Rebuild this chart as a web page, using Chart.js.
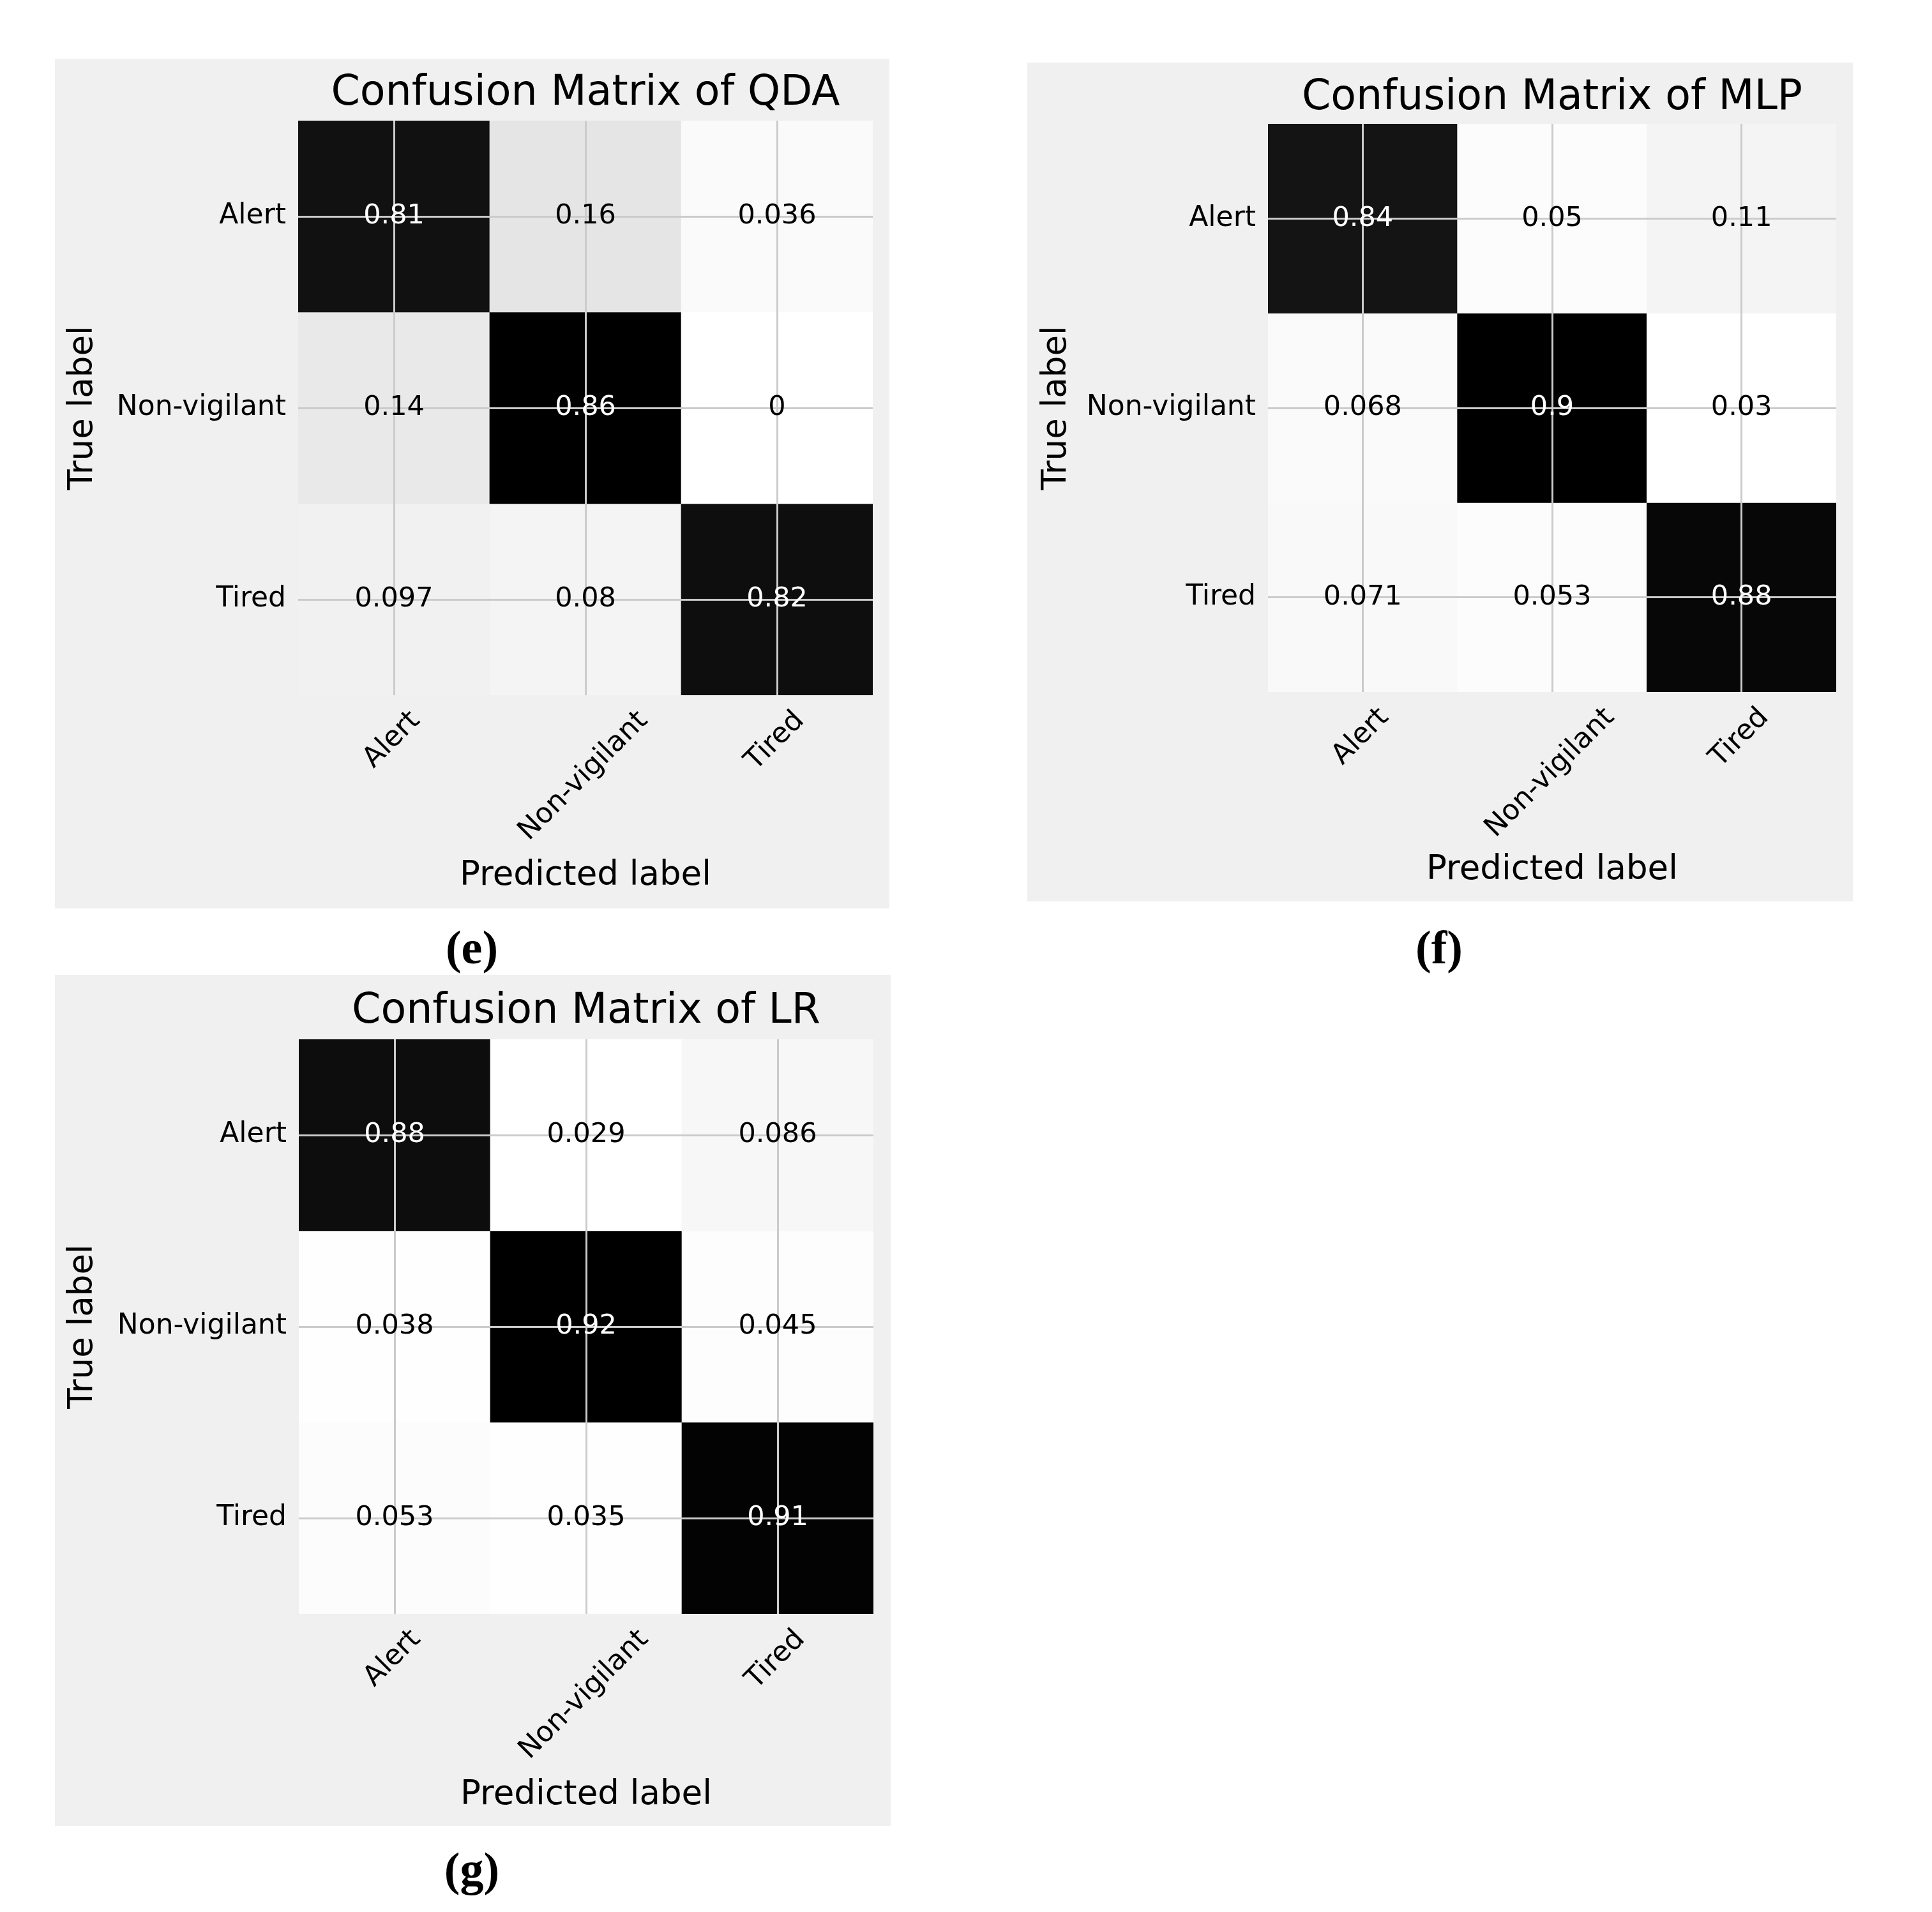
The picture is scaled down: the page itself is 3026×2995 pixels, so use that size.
<!DOCTYPE html>
<html><head><meta charset="utf-8">
<script src="https://cdn.jsdelivr.net/npm/chart.js@4/dist/chart.umd.min.js"></script>
<style>
html,body{margin:0;padding:0;background:#fff;}
body{width:3026px;height:2995px;position:relative;overflow:hidden;}
canvas{position:absolute;background:#f0f0f0;}
.cap{position:absolute;font-family:"Liberation Serif","DejaVu Serif",serif;font-weight:bold;font-size:74px;transform:translate(-50%,-50%);white-space:nowrap;line-height:1;color:#000;}
</style></head><body>
<canvas id="c1" width="1307" height="1331" style="left:86px;top:92px"></canvas>
<canvas id="c2" width="1293" height="1314" style="left:1609px;top:98px"></canvas>
<canvas id="c3" width="1309" height="1333" style="left:86px;top:1527px"></canvas>
<div class="cap" style="left:739px;top:1484px">(e)</div>
<div class="cap" style="left:2254px;top:1484px">(f)</div>
<div class="cap" style="left:739px;top:2928px">(g)</div>
<script>
// ---- data ----
const classLabels = ["Alert", "Non-vigilant", "Tired"];
const qdaTitle = "Confusion Matrix of QDA";
const mlpTitle = "Confusion Matrix of MLP";
const lrTitle = "Confusion Matrix of LR";
const qdaValues = [[0.81, 0.16, 0.036], [0.14, 0.86, 0], [0.097, 0.08, 0.82]];
const mlpValues = [[0.84, 0.05, 0.11], [0.068, 0.9, 0.03], [0.071, 0.053, 0.88]];
const lrValues = [[0.88, 0.029, 0.086], [0.038, 0.92, 0.045], [0.053, 0.035, 0.91]];
const xAxisTitle = "Predicted label";
const yAxisTitle = "True label";

// ---- styling ----
const FONT = "'DejaVu Sans'";
Chart.defaults.font.family = FONT;
const GRID = '#cbcbcb';
const greysStops = [255, 240, 217, 189, 150, 115, 82, 37, 0];
function greys(v, lo, hi) {
  let t = (v - lo) / (hi - lo);
  t = Math.max(0, Math.min(1, t));
  const p = t * 8, i = Math.min(7, Math.floor(p)), f = p - i;
  const g = Math.round(greysStops[i] + (greysStops[i + 1] - greysStops[i]) * f);
  return `rgb(${g},${g},${g})`;
}

const cellText = {
  id: 'cellText',
  afterDraw(chart, args, opts) {
    const ctx = chart.ctx;
    const vals = opts.values;
    const flat = vals.flat();
    const hi = Math.max(...flat), lo = Math.min(...flat);
    ctx.save();
    ctx.font = `43px ${FONT}`;
    ctx.textAlign = 'center';
    ctx.textBaseline = 'middle';
    chart.data.datasets.forEach((ds, r) => {
      const meta = chart.getDatasetMeta(r);
      meta.data.forEach((el, c) => {
        const p = el.getCenterPoint();
        const v = vals[r][c];
        ctx.fillStyle = v > (hi + lo) / 2 ? '#ffffff' : '#000000';
        ctx.fillText(String(v), p.x, p.y);
      });
    });
    // rotated x tick labels (centered under tick, matplotlib style)
    const xs = chart.scales.x;
    const fs = 44, h = fs * 1.164;
    ctx.font = `${fs}px ${FONT}`;
    ctx.fillStyle = '#000';
    const y0 = chart.chartArea.bottom + opts.xPad;
    chart.data.labels.forEach((lab, i) => {
      const x = xs.getPixelForTick(i);
      const w = ctx.measureText(lab).width;
      const cy = y0 + (w + h) / (2 * Math.SQRT2);
      ctx.save();
      ctx.translate(x - 3, cy);
      ctx.rotate(-Math.PI / 4);
      ctx.fillText(lab, 0, 0);
      ctx.restore();
    });
    ctx.restore();
  }
};

function makeChart(id, title, values, lay) {
  const flat = values.flat();
  const lo = Math.min(...flat), hi = Math.max(...flat);
  const datasets = values.map((row, r) => ({
    label: classLabels[r],
    data: row.map(() => [r, r + 1]),
    backgroundColor: row.map(v => greys(v, lo, hi)),
    borderWidth: 0,
    barPercentage: 1,
    categoryPercentage: 1,
    grouped: false
  }));
  new Chart(document.getElementById(id), {
    type: 'bar',
    data: { labels: classLabels, datasets },
    options: {
      responsive: false,
      animation: false,
      devicePixelRatio: 1,
      layout: { padding: { left: 0, right: lay.right, top: 0, bottom: 0 } },
      plugins: {
        legend: { display: false },
        tooltip: { enabled: false },
        title: {
          display: true, text: title, fullSize: false, color: '#000',
          font: { family: FONT, size: 65, weight: 'normal', lineHeight: 1.2 },
          padding: { top: lay.tpt, bottom: lay.tpb }
        },
        cellText: { values, xPad: 15 }
      },
      scales: {
        x: {
          type: 'category',
          offset: true,
          grid: { offset: false, color: GRID, lineWidth: 3, z: 1, drawTicks: false },
          border: { display: false },
          ticks: { display: false },
          title: {
            display: true, text: xAxisTitle, color: '#000',
            font: { family: FONT, size: 53, lineHeight: 1.2 },
            padding: { top: 0, bottom: lay.xtb }
          },
          afterFit: s => { s.height = lay.xH; s.paddingLeft = 0; s.paddingRight = 0; }
        },
        y: {
          type: 'linear',
          min: 0, max: 3, reverse: true,
          grid: { color: GRID, lineWidth: 3, z: 1, drawTicks: false },
          border: { display: false },
          afterBuildTicks: s => { s.ticks = classLabels.map((_, i) => ({ value: i + 0.5 })); },
          ticks: {
            padding: 19, color: '#000',
            font: { family: FONT, size: 44 },
            callback: (v, i) => classLabels[i]
          },
          title: {
            display: true, text: yAxisTitle, color: '#000',
            font: { family: FONT, size: 53, lineHeight: 1.2 },
            padding: { top: lay.ytp, bottom: 0 }
          },
          afterFit: s => { s.width = lay.yW; s.paddingTop = 0; s.paddingBottom = 0; }
        }
      }
    },
    plugins: [cellText]
  });
}

makeChart('c1', qdaTitle, qdaValues, { yW: 381, right: 26, xH: 334, tpt: 16, tpb: 3, ytp: 12, xtb: 19 });
makeChart('c2', mlpTitle, mlpValues, { yW: 377, right: 26, xH: 328, tpt: 17, tpb: 1, ytp: 14, xtb: 17 });
makeChart('c3', lrTitle, lrValues, { yW: 382, right: 27, xH: 332, tpt: 19, tpb: 4, ytp: 12, xtb: 16 });
</script>
</body></html>
